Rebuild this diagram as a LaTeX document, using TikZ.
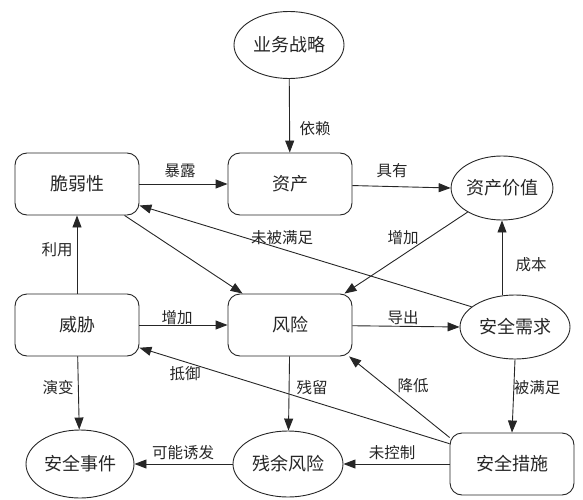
\documentclass[tikz,border=0pt]{standalone}
\usepackage{fontspec}
\setmainfont{Noto Sans CJK SC}
\usetikzlibrary{arrows.meta,shapes.geometric}
\begin{document}
\begin{tikzpicture}[x=1pt,y=-1pt,
  box/.style={draw=black!85, rounded corners=12pt, minimum width=124pt, minimum height=62pt, inner sep=0pt, font=\fontsize{18}{20}\selectfont, text=black!85, line width=0.9pt},
  ell/.style={draw=black!85, ellipse, inner sep=0pt, font=\fontsize{18}{20}\selectfont, text=black!85, line width=0.9pt},
  lbl/.style={font=\fontsize{15.5}{17}\selectfont, text=black!85, inner sep=0pt},
  arr/.style={-{Triangle[length=12pt,width=9pt]}, draw=black!85, line width=0.9pt}]
\useasboundingbox (0,0) rectangle (583,500);
% nodes
\node[ell, minimum width=110pt, minimum height=67pt] (bs) at (289,45) {业务战略};
\node[box] (as) at (290,184) {资产};
\node[box] (vul) at (77,184) {脆弱性};
\node[ell, minimum width=88pt, minimum height=64pt] (av) at (502,188) {资产价值};
\node[box] (thr) at (77,325) {威胁};
\node[box] (rsk) at (290,325) {风险};
\node[ell, minimum width=110pt, minimum height=64pt] (sn) at (515,327) {安全需求};
\node[ell, minimum width=108pt, minimum height=68pt] (se) at (80,464) {安全事件};
\node[ell, minimum width=110pt, minimum height=66pt] (rr) at (288,464) {残余风险};
\node[box] (sm) at (512,464) {安全措施};
% connectors
\draw[arr] (bs) -- (as);
\draw[arr] (vul) -- (as);
\draw[arr] (as) -- (av.west);
\draw[arr] (thr) -- (vul);
\draw[arr] (vul) -- (rsk);
\draw[arr] (av.215) -- (rsk.30);
\draw[arr] (sn.155) -- (vul.-19);
\draw[arr] (thr) -- (rsk);
\draw[arr] (rsk) -- (sn.west);
\draw[arr] (sn.north -| av.south) -- (av.south);
\draw[arr] (sn.south) -- (sm.north);
\draw[arr] (sm.157) -- (rsk.-28);
\draw[arr] (sm.162) -- (thr.-20);
\draw[arr] (rsk) -- (rr);
\draw[arr] (sm.west) -- (rr.east);
\draw[arr] (rr.west) -- (se.east);
\draw[arr] (thr) -- (se);
% labels
\node[lbl] (l1) at (315,129) {依赖};
\node[lbl] (l2) at (180,171) {暴露};
\node[lbl] (l3) at (392,171) {具有};
\node[lbl] (l4) at (57,250) {利用};
\node[lbl] (l5) at (282,238) {未被满足};
\node[lbl] (l6) at (403,238) {增加};
\node[lbl] (l7) at (531,265) {成本};
\node[lbl] (l8) at (177,318) {增加};
\node[lbl] (l9) at (403,318) {导出};
\node[lbl] (l10) at (58,388) {演变};
\node[lbl] (l11) at (185,374) {抵御};
\node[lbl] (l12) at (312,388) {残留};
\node[lbl] (l13) at (413,386) {降低};
\node[lbl] (l14) at (537,388) {被满足};
\node[lbl] (l15) at (392,453) {未控制};
\node[lbl] (l16) at (183,453) {可能诱发};
\end{tikzpicture}
\end{document}
